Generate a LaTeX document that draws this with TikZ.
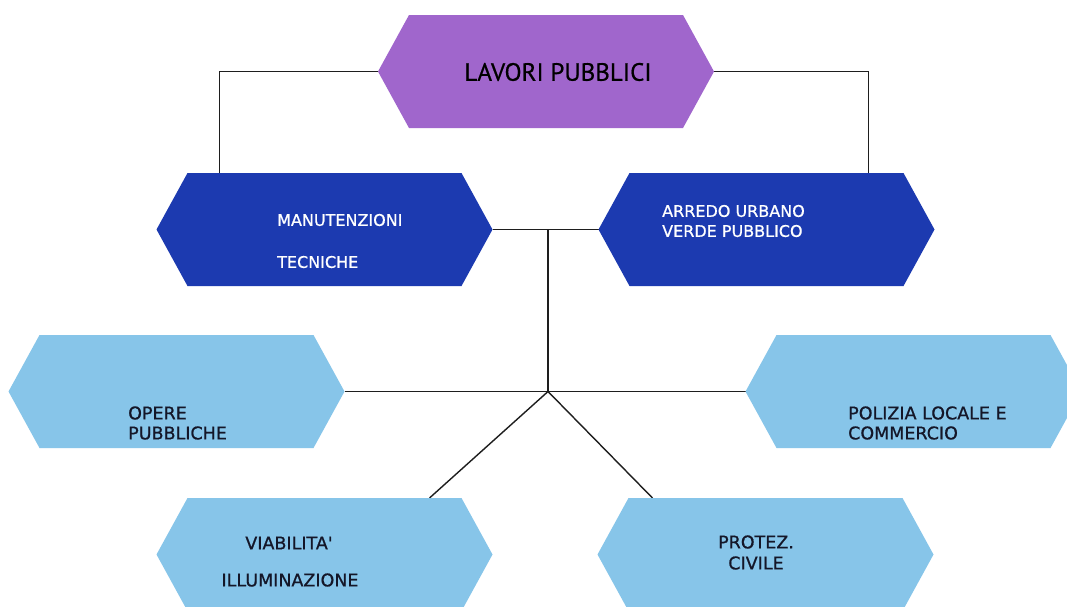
\documentclass[tikz,border=0pt]{standalone}
\usepackage{fontspec}
\setmainfont{PT Sans}
\newfontfamily\boxfont[FakeBold=0.8]{DejaVu Sans}
\newfontfamily\titlefont[FakeBold=0.6]{PT Sans}
\definecolor{lavpurple}{RGB}{160,102,204}
\definecolor{darkbl}{RGB}{28,58,176}
\definecolor{lightbl}{RGB}{135,197,233}
\definecolor{txtdark}{RGB}{20,22,40}
\definecolor{linecol}{RGB}{30,30,30}
\newcommand\hexfill[2]{\fill[#2] (#1.west) -- ([xshift=31pt]#1.north west) -- ([xshift=-31pt]#1.north east) -- (#1.east) -- ([xshift=-31pt]#1.south east) -- ([xshift=31pt]#1.south west) -- cycle;}
\begin{document}
\begin{tikzpicture}[x=1pt,y=-1pt,
  hexbox/.style={rectangle,draw=none,inner sep=0pt,outer sep=0pt,minimum width=336pt,minimum height=113pt},
  conn/.style={draw=linecol,line width=1.4pt},
  bigtxt/.style={inner sep=0pt,font=\titlefont\fontsize{25}{28}\selectfont,text=black},
  whtxt/.style={inner sep=0pt,font=\boxfont\fontsize{16}{19}\selectfont,text=white,anchor=west},
  dktxt/.style={inner sep=0pt,font=\boxfont\fontsize{17.5}{20}\selectfont,text=txtdark}
]
\useasboundingbox (0,0) rectangle (1067,606);
\fill[white] (0,0) rectangle (1067,606);
% boxes
\node[hexbox] (lp) at (546,71.5) {};
\node[hexbox] (mt) at (324.5,229.5) {};
\node[hexbox] (ar) at (766.5,229.5) {};
\node[hexbox] (op) at (176.5,391.5) {};
\node[hexbox] (pl) at (913.5,391.5) {};
\node[hexbox] (vi) at (324.5,554.5) {};
\node[hexbox] (pc) at (765.5,554.5) {};
% junctions
\coordinate (j1) at (548,229.5);
\coordinate (j2) at (548,391.5);
% connectors
\draw[conn] (lp.west) -| ([xshift=63pt]mt.north west);
\draw[conn] (lp.east) -| ([xshift=-66pt]ar.north east);
\draw[conn] (mt.east) -- (ar.west);
\draw[conn] (j1) -- (j2);
\draw[conn] (op.east) -- (pl.west);
\draw[conn] (j2) -- ([xshift=273pt]vi.north west);
\draw[conn] (j2) -- ([xshift=55pt]pc.north west);
% hexagons
\hexfill{lp}{lavpurple}
\hexfill{mt}{darkbl}
\hexfill{ar}{darkbl}
\hexfill{op}{lightbl}
\hexfill{pl}{lightbl}
\hexfill{vi}{lightbl}
\hexfill{pc}{lightbl}
% texts
\node[bigtxt] (tlp) at (558,72) {LAVORI PUBBLICI};
\node[whtxt] (tmt1) at (277,220) {MANUTENZIONI};
\node[whtxt] (tmt2) at (277,262) {TECNICHE};
\node[whtxt] (tar1) at (662,211) {ARREDO URBANO};
\node[whtxt] (tar2) at (662,231) {VERDE PUBBLICO};
\node[dktxt,anchor=west] (top1) at (128,413) {OPERE};
\node[dktxt,anchor=west] (top2) at (128,433) {PUBBLICHE};
\node[dktxt,anchor=west] (tpl1) at (848,413) {POLIZIA LOCALE E};
\node[dktxt,anchor=west] (tpl2) at (848,433) {COMMERCIO};
\node[dktxt] (tvi1) at (289,543) {VIABILITA'};
\node[dktxt] (tvi2) at (290,580) {ILLUMINAZIONE};
\node[dktxt] (tpc1) at (756,542) {PROTEZ.};
\node[dktxt] (tpc2) at (756,563) {CIVILE};
\end{tikzpicture}
\end{document}
